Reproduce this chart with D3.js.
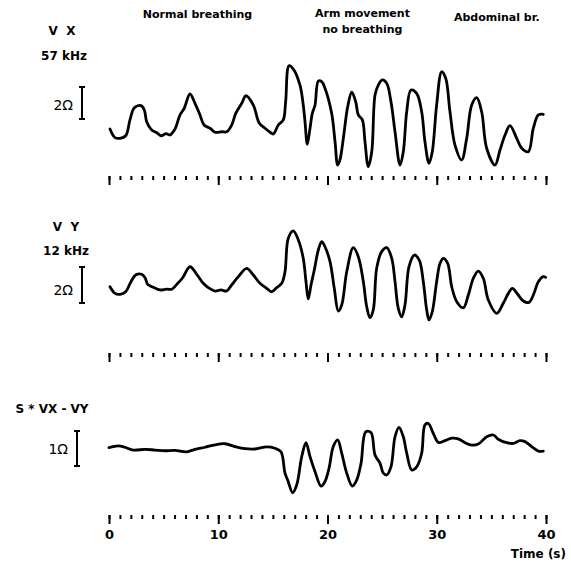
<!DOCTYPE html>
<html>
<head>
<meta charset="utf-8">
<script src="https://cdn.jsdelivr.net/npm/d3@7"></script>
<style>
  body { margin: 0; background: #fff; }
  text { font-family: "DejaVu Sans", sans-serif; fill: #000; white-space: pre; }
  .lbl { font-weight: bold; }
  .ohm { font-family: "DejaVu Sans", sans-serif; font-size: 14px; }
  .trace { fill: none; stroke: #000; stroke-width: 2.8; stroke-linejoin: round; stroke-linecap: round; }
  .tick line { stroke: #000; stroke-width: 2; }
</style>
</head>
<body>
<script>
// Chart size
var width = 571;
var height = 562;

// Phase annotations across the top
var phaseLabels = [["Normal breathing"], ["Arm movement", "no breathing"], ["Abdominal br."]];
var phaseTimes = [8.1, 23.2, 35.5];

// Panel titles and scale bars
var panelTitles = [["V  X", "57 kHz"], ["V  Y", "12 kHz"], ["S * VX - VY"]];
var scaleBarOhms = [2, 2, 1];
var timeTicks = d3.range(0, 41);
var timeLabels = [0, 10, 20, 30, 40];

// Traces: [time (s), impedance (ohm)]
var vxTrace = [[0.09,2.56],[0.55,2.02],[1.01,1.98],[1.53,2.14],[1.92,3.13],[2.32,3.89],[2.93,4.02],[3.23,3.75],[3.45,3.02],[3.91,2.5],[4.37,2.33],[4.76,2.14],[5.22,2.27],[5.58,2.19],[6.04,2.56],[6.50,3.44],[6.89,3.86],[7.41,4.75],[7.87,4.17],[8.33,3.44],[8.70,2.81],[9.25,2.61],[9.70,2.36],[10.32,2.39],[10.77,2.39],[11.23,2.81],[11.60,3.54],[12.15,4.17],[12.54,4.64],[13.21,4.06],[13.76,2.92],[14.28,2.61],[14.74,2.36],[15.04,2.25],[15.50,2.81],[15.95,3.13],[16.17,4.27],[16.48,6.52],[16.87,6.31],[17.48,5.31],[17.78,4.06],[17.94,3.02],[18.15,1.61],[18.40,2.61],[18.61,3.54],[18.86,4.06],[19.16,5.56],[19.47,5.52],[19.77,5.11],[20.38,3.54],[20.69,1.77],[20.93,0.31],[21.14,0.63],[21.45,1.98],[21.85,3.96],[22.22,4.86],[22.58,4.27],[22.82,3.44],[23.19,3.13],[23.43,1.77],[23.73,0.21],[24.05,1.14],[24.35,4.69],[24.65,5.31],[25.02,5.63],[25.42,5.42],[25.81,4.27],[26.18,2.39],[26.64,0.31],[26.94,1.14],[27.25,3.64],[27.64,5.0],[28.16,4.79],[28.62,3.64],[28.92,1.77],[29.29,0.42],[29.59,1.14],[29.99,4.06],[30.45,6.14],[30.82,5.73],[31.21,3.64],[31.67,1.56],[32.28,0.63],[32.74,1.98],[33.20,4.06],[33.66,4.52],[34.11,3.64],[34.57,1.36],[35.33,0.31],[35.79,1.25],[36.25,2.19],[36.70,2.77],[37.32,1.98],[37.78,1.36],[38.38,1.14],[38.84,2.61],[39.30,3.44],[39.75,3.48]];

var vyTrace = [[0.09,2.96],[0.55,2.59],[1.01,2.54],[1.53,2.68],[2.01,3.24],[2.44,3.61],[2.99,3.65],[3.30,3.46],[3.54,3.09],[4.05,2.93],[4.67,2.78],[5.28,2.83],[5.74,2.82],[6.20,3.09],[6.71,3.43],[7.41,4.07],[8.03,3.65],[8.63,3.15],[9.09,2.91],[9.70,2.72],[10.25,2.78],[10.77,2.72],[11.23,3.06],[11.84,3.52],[12.60,3.98],[13.21,3.61],[13.82,3.15],[14.43,2.87],[14.89,2.68],[15.35,2.91],[15.81,3.15],[16.11,3.79],[16.41,5.65],[16.87,6.06],[17.33,5.56],[17.78,4.54],[18.03,3.24],[18.24,2.28],[18.49,3.06],[18.79,3.89],[19.16,5.0],[19.47,5.46],[19.77,5.18],[20.23,4.35],[20.62,2.87],[20.99,1.61],[21.30,1.94],[21.76,3.79],[22.36,5.13],[22.82,4.63],[23.28,3.24],[23.59,1.85],[23.89,1.24],[24.19,1.67],[24.50,3.98],[24.96,4.91],[25.42,5.13],[25.88,4.54],[26.18,3.24],[26.48,1.76],[26.79,1.29],[27.09,1.94],[27.46,4.07],[27.95,4.72],[28.40,4.44],[28.77,3.24],[29.08,1.67],[29.29,1.11],[29.59,1.57],[29.99,3.24],[30.30,4.26],[30.60,4.54],[31.00,4.26],[31.37,2.96],[31.83,2.13],[32.43,1.79],[32.89,2.5],[33.35,3.43],[33.80,3.83],[34.26,3.43],[34.72,2.22],[35.49,1.48],[36.09,2.04],[36.55,2.59],[36.92,2.87],[37.41,2.54],[37.92,2.17],[38.44,2.09],[38.84,2.5],[39.30,3.24],[39.75,3.52],[39.97,3.48]];

var diffTrace = [[0,0.04],[0.85,0.09],[1.46,0.05],[2.22,-0.03],[3.30,-0.01],[4.21,-0.03],[5.13,-0.05],[6.04,-0.04],[7.11,-0.08],[7.87,-0.01],[8.79,0.05],[9.70,0.12],[10.62,0.15],[11.53,0.07],[12.45,0.01],[13.36,0],[14.43,0.06],[15.19,0.02],[15.74,-0.08],[16.11,-0.69],[16.36,-0.89],[16.81,-1.25],[17.18,-1.03],[17.64,-0.22],[18.03,0.18],[18.40,-0.22],[18.86,-0.65],[19.41,-1.06],[19.77,-0.93],[20.14,-0.55],[20.53,0.07],[20.93,0.26],[21.30,-0.12],[21.76,-0.69],[22.27,-1.06],[22.67,-0.89],[23.07,-0.41],[23.50,0.49],[23.98,0.47],[24.35,-0.17],[24.81,-0.41],[25.11,-0.69],[25.42,-0.74],[25.81,-0.51],[26.18,0.35],[26.54,0.62],[26.94,0.35],[27.25,-0.12],[27.71,-0.6],[28.16,-0.51],[28.62,-0.12],[28.92,0.69],[29.23,0.73],[29.68,0.45],[30.14,0.19],[30.76,0.24],[31.37,0.31],[31.97,0.29],[32.59,0.18],[33.20,0.11],[33.80,0.14],[34.57,0.35],[35.18,0.4],[35.63,0.28],[36.40,0.18],[37.01,0.16],[37.62,0.24],[38.08,0.21],[38.69,0.07],[39.30,-0.06],[39.75,-0.06]];

var traces = [vxTrace, vyTrace, diffTrace];

// Layout for each panel: zero line, px per ohm, tick row, label rows
var panels = [
    { zero: 170, pxPerOhm: 16, tickY: 176, titleY: [35, 60], titleX: [62, 64], barX: 82, barMid: 103, ohmY: 110 },
    { zero: 340, pxPerOhm: 18, tickY: 353, titleY: [231, 255], titleX: [66, 66], barX: 82, barMid: 285, ohmY: 295 },
    { zero: 449, pxPerOhm: 35, tickY: 515, titleY: [413], titleX: [52], barX: 77, barMid: 448.5, ohmY: 454 }
];

var svg = d3.select("body").append("svg")
    .attr("width", width)
    .attr("height", height);

var x = d3.scaleLinear()
    .domain([0, 40])
    .range([109, 546]);

// Phase labels
phaseLabels.forEach(function(lines, i) {
    var baseY = i == 1 ? 17 : (i == 0 ? 18 : 21);
    lines.forEach(function(s, j) {
        svg.append("text")
            .attr("class", "lbl")
            .attr("x", x(phaseTimes[i]))
            .attr("y", baseY + j * 16)
            .attr("text-anchor", "middle")
            .style("font-size", "11px")
            .text(s);
    });
});

panels.forEach(function(p, i) {
    var y = d3.scaleLinear()
        .domain([0, 1])
        .range([p.zero, p.zero - p.pxPerOhm]);

    // Titles
    panelTitles[i].forEach(function(s, j) {
        svg.append("text")
            .attr("class", "lbl")
            .attr("x", p.titleX[j])
            .attr("y", p.titleY[j])
            .attr("text-anchor", "middle")
            .style("font-size", "12px")
            .text(s);
    });

    // Scale bar
    var half = (y(0) - y(scaleBarOhms[i])) / 2;
    var bar = svg.append("g").attr("stroke", "#000").attr("stroke-width", 2);
    bar.append("line").attr("x1", p.barX).attr("x2", p.barX).attr("y1", p.barMid - half).attr("y2", p.barMid + half);
    bar.append("line").attr("x1", p.barX - 3).attr("x2", p.barX + 3).attr("y1", p.barMid - half).attr("y2", p.barMid - half);
    bar.append("line").attr("x1", p.barX - 3).attr("x2", p.barX + 3).attr("y1", p.barMid + half).attr("y2", p.barMid + half);
    svg.append("text")
        .attr("class", "ohm")
        .attr("x", p.barX - 9)
        .attr("y", p.ohmY)
        .attr("text-anchor", "end")
        .text(scaleBarOhms[i] + "\u03A9");

    // Trace
    var line = d3.line()
        .x(function(d) { return x(d[0]); })
        .y(function(d) { return y(d[1]); })
        .curve(d3.curveCatmullRom.alpha(0.5));
    svg.append("path")
        .datum(traces[i])
        .attr("class", "trace")
        .attr("d", line);

    // Time ticks: every second, longer every ten
    var minor = svg.append("g")
        .attr("transform", "translate(0," + p.tickY + ")")
        .call(d3.axisBottom(x).tickValues(timeTicks).tickSize(4).tickFormat(""));
    minor.select(".domain").remove();

    var major = svg.append("g")
        .attr("transform", "translate(0," + p.tickY + ")")
        .call(d3.axisBottom(x).tickValues(timeLabels).tickSize(9).tickPadding(6)
            .tickFormat(i == 2 ? d3.format("d") : ""));
    major.select(".domain").remove();
    major.selectAll("text")
        .attr("class", "lbl")
        .style("font-size", "13px")
        .style("font-family", "'DejaVu Sans', sans-serif");
});

svg.append("text")
    .attr("class", "lbl")
    .attr("x", 566)
    .attr("y", 558)
    .attr("text-anchor", "end")
    .style("font-size", "12px")
    .text("Time (s)");
</script>
</body>
</html>
